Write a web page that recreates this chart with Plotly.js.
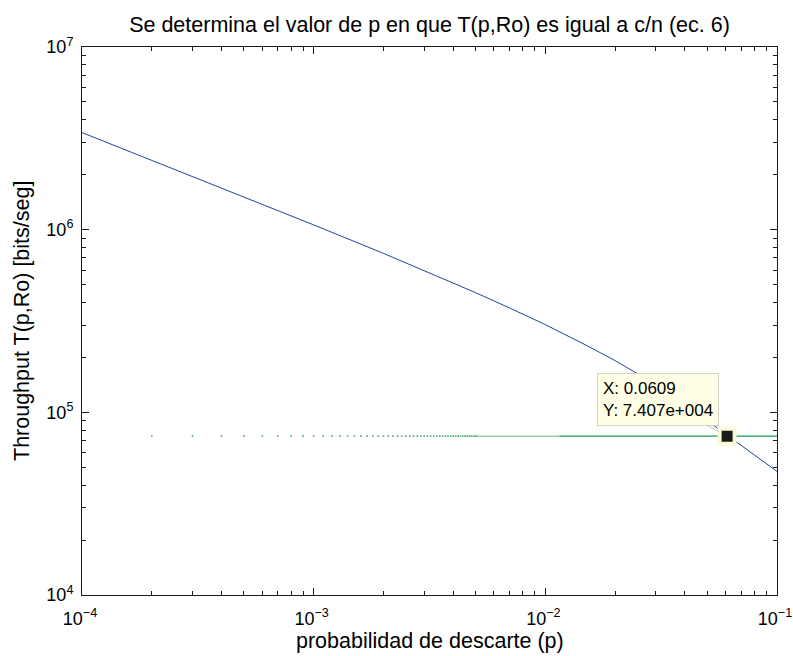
<!DOCTYPE html>
<html>
<head>
<meta charset="utf-8">
<script src="https://cdn.plot.ly/plotly-3.0.1.min.js"></script>
<style>html,body{margin:0;padding:0;background:#fff;}#chart{width:793px;height:656px;}</style>
</head>
<body>
<div id="chart"></div>
<script>
// Blue curve: throughput T(p,Ro)
const pBlue = [1e-4, 2e-4, 3e-4, 5e-4, 7e-4, 1e-3, 2e-3, 3e-3, 5e-3, 7e-3, 1e-2, 1.5e-2, 2e-2, 3e-2, 4e-2, 5e-2, 6e-2, 7e-2, 8e-2, 9e-2, 1e-1];
const TBlue = [3.40e6, 2.40e6, 1.955e6, 1.51e6, 1.275e6, 1.062e6, 7.42e5, 5.98e5, 4.52e5, 3.73e5, 3.02e5, 2.33e5, 1.92e5, 1.42e5, 1.115e5, 9.05e4, 7.55e4, 6.6e4, 5.85e4, 5.25e4, 4.75e4];

// Green: constant c/n sampled at p = 0.0001 steps (sparse dots visible on the left)
const cn = 74070;
const pGreenDots = [0.0002,0.0003,0.0004,0.0005,0.0006,0.0007,0.0008,0.0009,0.0010,0.0011,0.0012,0.0013,0.0014,0.0015,0.0016,0.0017,0.0018,0.0019,0.0020,0.0021,0.0022,0.0023,0.0024,0.0025,0.0026,0.0027,0.0028,0.0029,0.0030,0.0031,0.0032,0.0033,0.0034,0.0035,0.0036,0.0037,0.0038,0.0039,0.0040,0.0041,0.0042,0.0043,0.0044,0.0045,0.0046,0.0047,0.0048,0.0049,0.0050];
const pGreenDense = [0.0050, 0.0115];
const pGreenSolid = [0.0115, 0.1];

// Data tip
const tipX = 0.0609;
const tipY = 74070;
const tipText = "X: 0.0609<br>Y: 7.407e+004";

// Axis ticks
const xTickVals = [1e-4, 1e-3, 1e-2, 1e-1];
const xTickText = ["10<sup>−4</sup>", "10<sup>−3</sup>", "10<sup>−2</sup>", "10<sup>−1</sup>"];
const yTickVals = [1e4, 1e5, 1e6, 1e7];
const yTickText = ["10<sup>4</sup>", "10<sup>5</sup>", "10<sup>6</sup>", "10<sup>7</sup>"];
const xMinor = [2e-4,3e-4,4e-4,5e-4,6e-4,7e-4,8e-4,9e-4,2e-3,3e-3,4e-3,5e-3,6e-3,7e-3,8e-3,9e-3,2e-2,3e-2,4e-2,5e-2,6e-2,7e-2,8e-2,9e-2];
const yMinor = [2e4,3e4,4e4,5e4,6e4,7e4,8e4,9e4,2e5,3e5,4e5,5e5,6e5,7e5,8e5,9e5,2e6,3e6,4e6,5e6,6e6,7e6,8e6,9e6];

const titleText = "Se determina el valor de p en que T(p,Ro) es igual a c/n (ec. 6)";
const xLabel = "probabilidad de descarte (p)";
const yLabel = "Throughput T(p,Ro) [bits/seg]";

const green = "#179a55";
const blue = "#2142a8";
const font = "Liberation Sans, Arial, sans-serif";
const eps = 1e-6;

const traces = [
  {x: pBlue, y: TBlue, mode: "lines", line: {color: blue, width: 1}, hoverinfo: "skip"},
  {x: pGreenDots, y: pGreenDots.map(() => cn), mode: "markers",
   marker: {symbol: "square", size: 1.6, color: green, opacity: 0.8, line: {width: 0}}, hoverinfo: "skip"},
  {x: pGreenDense, y: pGreenDense.map(() => cn), mode: "lines", line: {color: green, width: 1}, opacity: 0.7, hoverinfo: "skip"},
  {x: pGreenSolid, y: pGreenSolid.map(() => cn), mode: "lines", line: {color: green, width: 1.2}, hoverinfo: "skip"},
  {x: [tipX], y: [tipY], mode: "markers",
   marker: {symbol: "square", size: 15, color: "#1a1a1a", line: {color: "#fbfbd8", width: 4}}, hoverinfo: "skip"}
];

const axisCommon = {
  type: "log",
  showgrid: false, zeroline: false,
  showline: true, linecolor: "#1a1a1a", linewidth: 1, mirror: "ticks",
  ticks: "inside", ticklen: 7, tickwidth: 1, tickcolor: "#1a1a1a",
  tickmode: "array",
  ticklabeloverflow: "allow",
  tickfont: {family: font, size: 18, color: "#000"},
  minor: {tickmode: "array", ticks: "inside", ticklen: 4, tickwidth: 1, tickcolor: "#1a1a1a", showgrid: false}
};

const layout = {
  width: 793, height: 656,
  paper_bgcolor: "#ffffff", plot_bgcolor: "#ffffff",
  margin: {l: 82, r: 16, t: 47, b: 61},
  showlegend: false,
  title: {text: titleText,
          font: {family: font, size: 21.5, color: "#000"},
          x: 0.5, xref: "paper", xanchor: "center", y: 1 - 24/656, yref: "container", yanchor: "middle"},
  xaxis: Object.assign({}, axisCommon, {
    range: [-4 - eps, -1 + eps], tickvals: xTickVals, ticktext: xTickText,
    ticklabelstandoff: 7, ticklabelshift: -2,
    minor: Object.assign({}, axisCommon.minor, {tickvals: xMinor})
  }),
  yaxis: Object.assign({}, axisCommon, {
    range: [4 - eps, 7 + eps], tickvals: yTickVals, ticktext: yTickText,
    ticklabelstandoff: 4,
    minor: Object.assign({}, axisCommon.minor, {tickvals: yMinor})
  }),
  annotations: [
    {x: 0.5, y: 0, xref: "paper", yref: "paper", yshift: -46, xanchor: "center", yanchor: "middle",
     text: xLabel, showarrow: false, font: {family: font, size: 21.5, color: "#000"}},
    {x: 0, y: 0.5, xref: "paper", yref: "paper", xshift: -60, xanchor: "center", yanchor: "middle",
     text: yLabel, textangle: -90, showarrow: false, font: {family: font, size: 21.5, color: "#000"}},
    {x: Math.log10(tipX), y: Math.log10(tipY), xref: "x", yref: "y",
     text: tipText, align: "left",
     font: {family: font, size: 17, color: "#000"},
     bgcolor: "#ffffe6", bordercolor: "#d4d4c8", borderwidth: 1, borderpad: 5,
     showarrow: true, arrowhead: 0, arrowwidth: 1, arrowcolor: "#c8c8c0",
     ax: -69, ay: -37, standoff: 9}
  ]
};

Plotly.newPlot("chart", traces, layout, {displayModeBar: false, staticPlot: true});
</script>
</body>
</html>
